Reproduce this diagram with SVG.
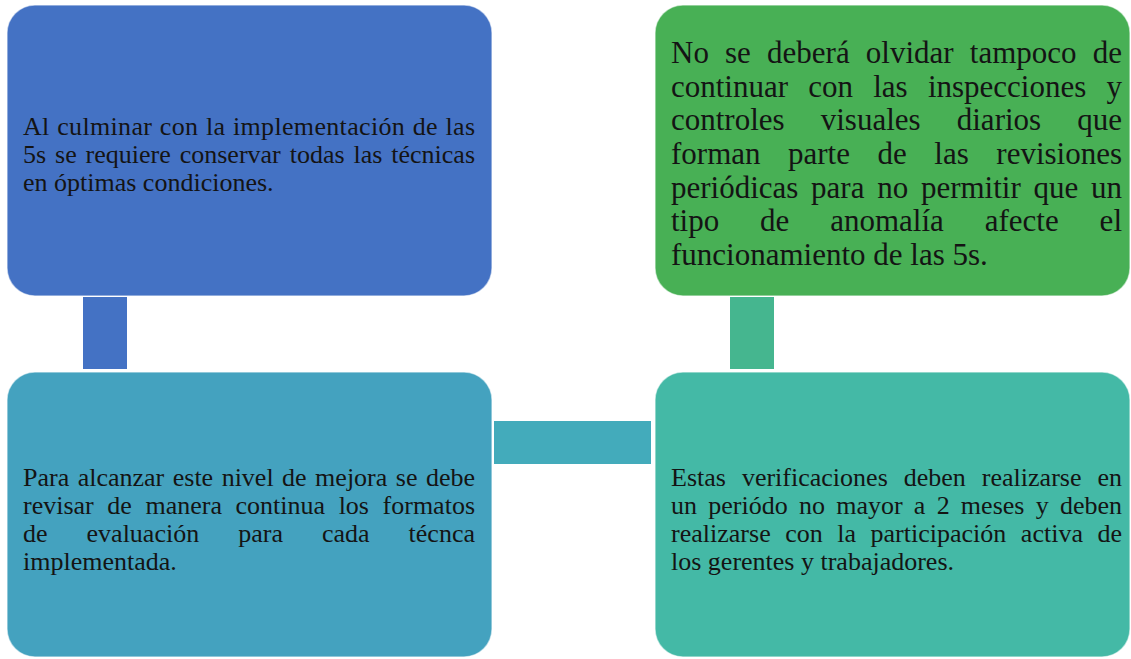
<svg xmlns="http://www.w3.org/2000/svg" width="1131" height="659" viewBox="0 0 1131 659">
<style>
.box{stroke:#ffffff;stroke-opacity:0.55;stroke-width:1.5}
.t{font-family:"Liberation Serif","Times New Roman",serif;fill:#141414}
.s26{font-size:26px}
.s31{font-size:31px}
</style>
<rect width="1131" height="659" fill="#ffffff"/>
<g id="connectors">
<rect x="83" y="297" width="44" height="72" fill="#4472C4"/>
<rect x="494" y="421" width="157" height="43" fill="#43ABBB"/>
<rect x="730" y="297" width="44" height="72" fill="#45B68F"/>
</g>
<g id="node1">
<rect class="box" x="7" y="5" width="485" height="291" rx="28" fill="#4472C4"/>
<text class="t s26" x="23" y="135" word-spacing="0.7" textLength="452" lengthAdjust="spacing">Al culminar con la implementación de las</text>
<text class="t s26" x="23" y="163" word-spacing="2.4" textLength="452" lengthAdjust="spacing">5s se requiere conservar todas las técnicas</text>
<text class="t s26" x="23" y="191">en óptimas condiciones.</text>
</g>
<g id="node2">
<rect class="box" x="7" y="372" width="485" height="285" rx="28" fill="#44A2BF"/>
<text class="t s26" x="23" y="486" word-spacing="2" textLength="452" lengthAdjust="spacing">Para alcanzar este nivel de mejora se debe</text>
<text class="t s26" x="23" y="514" word-spacing="7.1" textLength="452" lengthAdjust="spacing">revisar de manera continua los formatos</text>
<text class="t s26" x="23" y="542" word-spacing="32.5" textLength="452" lengthAdjust="spacing">de evaluación para cada técnca</text>
<text class="t s26" x="23" y="570">implementada.</text>
</g>
<g id="node3">
<rect class="box" x="655" y="372" width="475" height="285" rx="28" fill="#44B9A6"/>
<text class="t s26" x="671" y="486" word-spacing="9.5" textLength="451" lengthAdjust="spacing">Estas verificaciones deben realizarse en</text>
<text class="t s26" x="671" y="514" word-spacing="4.75" textLength="451" lengthAdjust="spacing">un periódo no mayor a 2 meses y deben</text>
<text class="t s26" x="671" y="542" word-spacing="8" textLength="451" lengthAdjust="spacing">realizarse con la participación activa de</text>
<text class="t s26" x="671" y="570">los gerentes y trabajadores.</text>
</g>
<g id="node4">
<rect class="box" x="655" y="5" width="475" height="291" rx="28" fill="#48B055"/>
<text class="t s31" x="671" y="63" word-spacing="8.4" textLength="451" lengthAdjust="spacing">No se deberá olvidar tampoco de</text>
<text class="t s31" x="671" y="97" word-spacing="12.45" textLength="451" lengthAdjust="spacing">continuar con las inspecciones y</text>
<text class="t s31" x="671" y="130" word-spacing="28.35" textLength="451" lengthAdjust="spacing">controles visuales diarios que</text>
<text class="t s31" x="671" y="164" word-spacing="19.8" textLength="451" lengthAdjust="spacing">forman parte de las revisiones</text>
<text class="t s31" x="671" y="198" word-spacing="5" textLength="451" lengthAdjust="spacing">periódicas para no permitir que un</text>
<text class="t s31" x="671" y="231" word-spacing="33.1" textLength="451" lengthAdjust="spacing">tipo de anomalía afecte el</text>
<text class="t s31" x="671" y="265">funcionamiento de las 5s.</text>
</g>
</svg>
